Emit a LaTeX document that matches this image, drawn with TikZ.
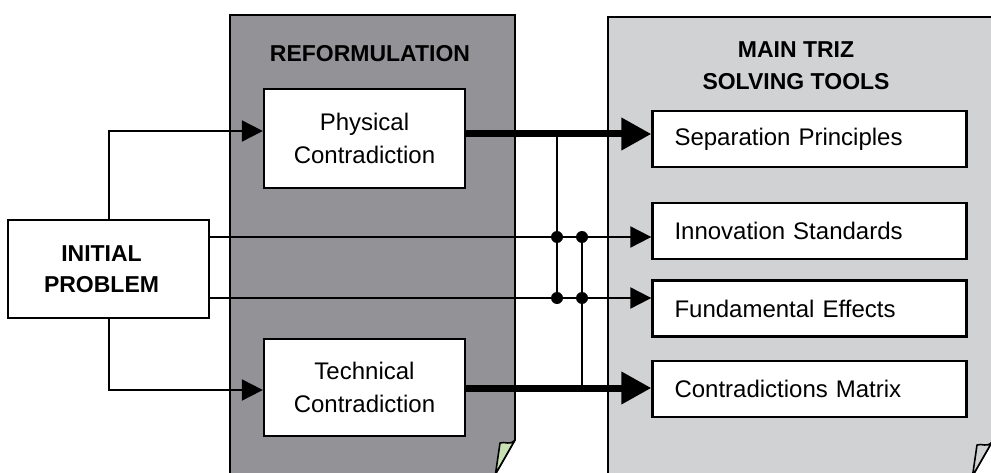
\documentclass[tikz,border=0pt]{standalone}
\usepackage{fontspec}
\setmainfont{Liberation Sans}
\usetikzlibrary{arrows.meta}
\definecolor{darkpanel}{HTML}{939397}
\definecolor{lightpanel}{HTML}{D1D2D4}
\definecolor{foldgreen}{HTML}{C8E1B4}
\begin{document}
\begin{tikzpicture}[x=1pt,y=-1pt,
  panel/.style={draw=black, line width=1.6pt, line join=miter},
  fold/.style={draw=black, line width=1.6pt, line join=round},
  box/.style={draw=black, line width=2.3pt, fill=white, inner sep=0pt,
    font=\fontsize{24}{33}\selectfont, align=center},
  toolbox/.style={draw=black, line width=2.3pt, fill=white, inner xsep=22pt, inner ysep=0pt,
    text width=270pt, minimum height=56pt, align=left, font=\fontsize{24}{28}\selectfont},
  titletext/.style={font=\fontsize{23}{32}\selectfont\bfseries, align=center, inner sep=0pt},
  thinarrow/.style={draw=black, line width=2pt, -{Triangle[length=21pt,width=21pt]}},
  thickarrow/.style={draw=black, line width=7pt, -{Triangle[length=30pt,width=31pt]}},
  thinline/.style={draw=black, line width=2pt},
  junction/.style={fill=black}
]
\useasboundingbox (0,0) rectangle (991,473);
\clip (0,0) rectangle (991,473);

% panels
\path[panel, fill=darkpanel] (230,15) -- (515,15) -- (515,440) -- (492,480) -- (230,480) -- cycle;
\path[fold, fill=foldgreen] (500,443) .. controls (505,441) and (510,446) .. (515,440) -- (495.5,474) -- cycle;
\path[panel, fill=lightpanel] (608,17) -- (992,17) -- (992,442) -- (969,482) -- (608,482) -- cycle;
\path[fold, fill=lightpanel] (977,445) .. controls (982,443) and (987,448) .. (992,442) -- (972.5,476) -- cycle;

% titles
\node[titletext] (reft) at (370,54) {REFORMULATION};
\node[titletext] (maint) at (796,66) {MAIN TRIZ\\SOLVING TOOLS};

% boxes
\node[box, minimum width=201pt, minimum height=98pt, font=\fontsize{23}{31}\selectfont\bfseries] (init) at (108.5,269) {\hspace*{-14pt}INITIAL\\\hspace*{-14pt}PROBLEM};
\node[box, minimum width=201pt, minimum height=99pt] (phys) at (364.5,138.5) {Physical\\Contradiction};
\node[box, minimum width=201pt, minimum height=97pt] (tech) at (364.5,387.5) {Technical\\Contradiction};
\node[toolbox] (sep) at (809.5,139) {Separation Principles};
\node[toolbox] (inn) at (809.5,231) {Innovation Standards};
\node[toolbox] (fund) at (809.5,308.5) {Fundamental Effects};
\node[toolbox] (mat) at (809.5,389) {Contradictions Matrix};

% helper coordinates
\coordinate (a1) at (0,131);
\coordinate (a2) at (0,390);
\coordinate (t1) at (0,134);
\coordinate (t2) at (0,388);
\coordinate (r1) at (0,237);
\coordinate (r2) at (0,298);
\coordinate (j1) at (557,237);
\coordinate (j2) at (582,237);
\coordinate (j3) at (557,298);
\coordinate (j4) at (582,298);

% connectors
\draw[thinarrow] (init.north) |- (a1 -| phys.west);
\draw[thinarrow] (init.south) |- (a2 -| tech.west);
\draw[thinarrow] (init.east |- r1) -- (inn.west |- r1);
\draw[thinarrow] (init.east |- r2) -- (fund.west |- r2);
\draw[thinline] (j1 |- t1) -- (j3);
\draw[thinline] (j2) -- (j2 |- t2);
\draw[thickarrow] (phys.east |- t1) -- (sep.west |- t1);
\draw[thickarrow] (tech.east |- t2) -- (mat.west |- t2);

% junction dots
\fill[junction] (j1) circle[radius=6pt];
\fill[junction] (j2) circle[radius=6pt];
\fill[junction] (j3) circle[radius=6pt];
\fill[junction] (j4) circle[radius=6pt];
\end{tikzpicture}
\end{document}
